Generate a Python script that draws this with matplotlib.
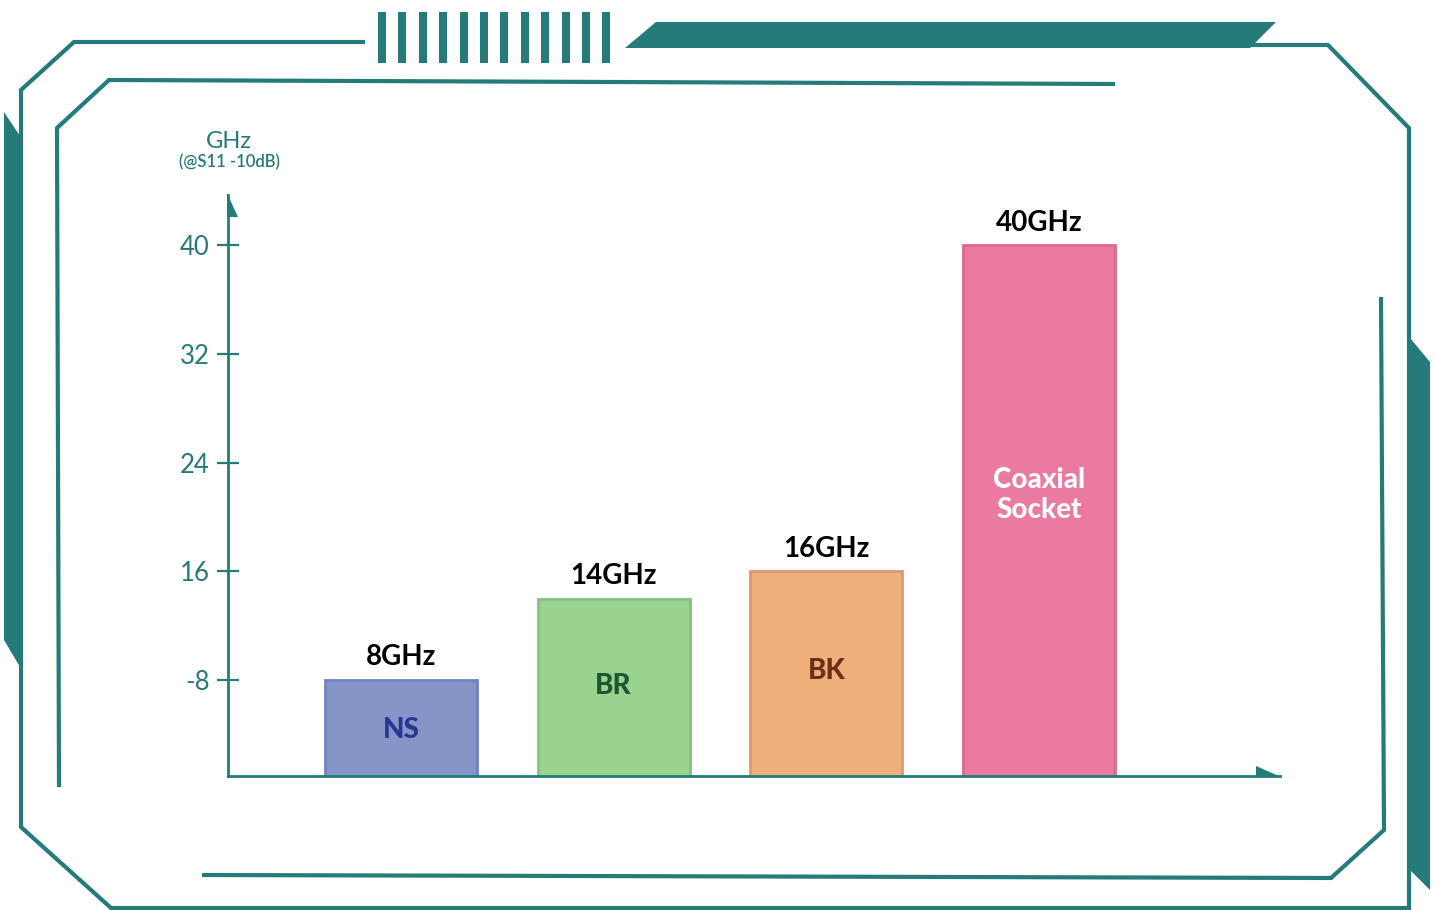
import numpy as np
import matplotlib
matplotlib.use("Agg")
import matplotlib.pyplot as plt
from matplotlib.patches import Polygon, Rectangle

plt.rcParams['font.family'] = ['Lato', 'DejaVu Sans']

# data
names = ['NS', 'BR', 'BK', 'Coaxial\nSocket']
values = [8, 14, 16, 40]
top_labels = ['8GHz', '14GHz', '16GHz', '40GHz']
tick_vals = [8, 16, 24, 32, 40]
tick_text = ['-8', '16', '24', '32', '40']

fills = ['#8595c8', '#9ad390', '#edb07a', '#ea7aa0']
edges = ['#6f82c4', '#86c07e', '#e39478', '#da6a88']
name_colors = ['#283593', '#1e5631', '#6d2e1a', 'white']
TEAL = '#257b79'

W, H = 1435, 910
fig = plt.figure(figsize=(W / 100, H / 100), dpi=100)

# decoration layer in pixel coords
deco = fig.add_axes([0, 0, 1, 1])
deco.set_xlim(0, W)
deco.set_ylim(H, 0)
deco.axis('off')

lw = 3.0
outer = [(365, 42), (74, 42), (21, 90), (21, 827), (111, 908), (1409, 908),
         (1409, 128), (1328, 45), (1249, 45)]
inner_top = [(1115, 84), (109, 80), (57, 128), (59, 787)]
inner_br = [(202, 875), (1331, 878), (1384, 830), (1381, 297)]
for path in (outer, inner_top, inner_br):
    xs, ys = zip(*path)
    deco.plot(xs, ys, color=TEAL, lw=lw, solid_capstyle='butt', solid_joinstyle='miter')

deco.add_patch(Polygon([(625, 48), (656, 22), (1276, 22), (1250, 48)], closed=True, color=TEAL, lw=0))
deco.add_patch(Polygon([(4, 112), (20, 136), (20, 667), (4, 640)], closed=True, color=TEAL, lw=0))
deco.add_patch(Polygon([(1410, 338), (1430, 362), (1430, 890), (1410, 870)], closed=True, color=TEAL, lw=0))
for i in range(12):
    deco.add_patch(Rectangle((378 + i * 20.4, 12), 8, 51, color=TEAL, lw=0))

# axis arrow heads
deco.add_patch(Polygon([(227, 193), (227, 217), (238, 217)], closed=True, color=TEAL, lw=0))
deco.add_patch(Polygon([(1256, 766), (1256, 777), (1281, 777)], closed=True, color=TEAL, lw=0))

# unit label
deco.text(229, 141, 'GHz', color=TEAL, fontsize=17, ha='center', va='center')
deco.text(229, 162, '(@S11 -10dB)', color=TEAL, fontsize=12, fontweight='semibold',
          ha='center', va='center')

# main chart
ax = fig.add_axes([228 / W, (H - 776) / H, (1280 - 228) / W, (776 - 195) / H])
ax.patch.set_alpha(0)
x = np.arange(len(values))
ax.bar(x, values, width=0.715, color=fills, edgecolor=edges, linewidth=2)
ax.set_xlim(-0.813, 4.133)
ax.set_ylim(0.94, 43.7)

for sp in ('top', 'right'):
    ax.spines[sp].set_visible(False)
for sp in ('left', 'bottom'):
    ax.spines[sp].set_color(TEAL)
    ax.spines[sp].set_linewidth(2)
ax.set_xticks([])
ax.set_yticks(tick_vals)
ax.set_yticklabels(tick_text)
ax.tick_params(axis='y', direction='inout', length=16, width=1.6, color=TEAL,
               labelcolor=TEAL, labelsize=18.5, pad=5)

for xi, v, lab, nm, nc in zip(x, values, top_labels, names, name_colors):
    ax.annotate(lab, (xi, v), xytext=(0, 7), textcoords='offset points',
                ha='center', va='bottom', fontsize=20, fontweight='bold', color='black')
    ax.text(xi, v * 0.54, nm, ha='center', va='center', fontsize=20,
            fontweight='black', color=nc, linespacing=1.2)

fig.savefig('out.png', dpi=100)
